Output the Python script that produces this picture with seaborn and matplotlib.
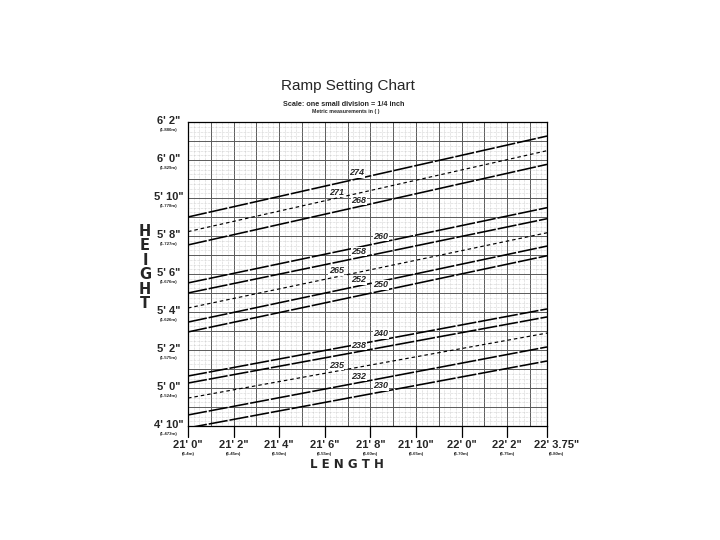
import numpy as np
import pandas as pd
import matplotlib
matplotlib.use("Agg")
import matplotlib.pyplot as plt
import seaborn as sns
from matplotlib.ticker import MultipleLocator

#%%     Data (all in inches)

labels = ['274', '271', '268', '260', '258', '265', '252', '250',
          '240', '238', '235', '232', '230']
dotted = ['271', '265', '235']

# height where each line meets the left (21'0") and right (22'3.75") edge
height_left = [69.0, 68.23, 67.53, 65.53, 65.0, 64.21, 63.47, 62.95,
               60.63, 60.26, 59.47, 58.58, 57.9]
height_right = [73.26, 72.49, 71.77, 69.49, 68.91, 68.17, 67.47, 66.96,
                64.16, 63.74, 62.89, 62.16, 61.42]
# length at which each number is written on its line
label_at = [259.4, 258.5, 259.5, 260.45, 259.5, 258.5, 259.5, 260.45,
            260.45, 259.5, 258.5, 259.5, 260.45]

length_min, length_max = 252, 267.75
height_min, height_max = 58, 74

x_ticks = [252, 254, 256, 258, 260, 262, 264, 266, 267.75]
x_ticklabels = ['21\' 0"', '21\' 2"', '21\' 4"', '21\' 6"', '21\' 8"',
                '21\' 10"', '22\' 0"', '22\' 2"', '22\' 3.75"']
x_metric = ['(6.4m)', '(6.45m)', '(6.50m)', '(6.55m)', '(6.60m)',
            '(6.65m)', '(6.70m)', '(6.75m)', '(6.80m)']

y_ticks = [74, 72, 70, 68, 66, 64, 62, 60, 58]
y_ticklabels = ['6\' 2"', '6\' 0"', '5\' 10"', '5\' 8"', '5\' 6"',
                '5\' 4"', '5\' 2"', '5\' 0"', '4\' 10"']
y_metric = ['(1.880m)', '(1.829m)', '(1.778m)', '(1.727m)', '(1.676m)',
            '(1.626m)', '(1.575m)', '(1.524m)', '(1.473m)']

#%%     Long table for seaborn
rows = []
for lab, h0, h1 in zip(labels, height_left, height_right):
    kind = 'dotted' if lab in dotted else 'solid'
    rows.append((lab, kind, length_min, h0))
    rows.append((lab, kind, length_max, h1))
df = pd.DataFrame(rows, columns=['line', 'kind', 'length', 'height'])

#%%     Plot
sns.set_style('white')
plt.rcParams['font.family'] = ['Liberation Sans', 'DejaVu Sans']

fig = plt.figure(figsize=(7.2, 5.4), dpi=100)
ax = fig.add_axes([188 / 720, 1 - 426 / 540, 359 / 720, 304 / 540])

black = {lab: 'black' for lab in labels}
sns.lineplot(data=df, x='length', y='height', hue='line', style='kind',
             size='kind', sizes={'solid': 1.15, 'dotted': 0.85},
             palette=black, dashes={'solid': (12, 1.2), 'dotted': (3, 2.5)},
             estimator=None, sort=False, legend=False, ax=ax, zorder=3)

for lab, xl, h0, h1 in zip(labels, label_at, height_left, height_right):
    yl = np.interp(xl, [length_min, length_max], [h0, h1])
    ax.annotate(lab, (xl, yl), xytext=(0, 1.2), textcoords='offset points',
                ha='center', va='bottom', fontsize=6.5, fontweight='bold',
                fontstyle='italic', zorder=5,
                bbox=dict(boxstyle='square,pad=0.05', fc='white', ec='none'))

ax.set_xlim(length_min, length_max)
ax.set_ylim(height_min, height_max)

# grid: one inch major, 1/4 inch small divisions
ax.xaxis.set_major_locator(MultipleLocator(1))
ax.yaxis.set_major_locator(MultipleLocator(1))
ax.xaxis.set_minor_locator(MultipleLocator(0.25))
ax.yaxis.set_minor_locator(MultipleLocator(0.25))
ax.grid(which='major', color='#5a5a5a', linewidth=0.7)
ax.grid(which='minor', color='#b0b0b0', linewidth=0.4, linestyle=(0, (1, 1.5)))
ax.set_axisbelow(True)
ax.tick_params(which='both', length=0, labelbottom=False, labelleft=False)
ax.set_xlabel('')
ax.set_ylabel('')
for s in ax.spines.values():
    s.set_color('black')
    s.set_linewidth(0.9)

# x ticks hanging below the grid, with labels
for xt, lab, met in zip(x_ticks, x_ticklabels, x_metric):
    ax.plot([xt, xt], [0, -0.035], transform=ax.get_xaxis_transform(),
            color='black', linewidth=0.9, clip_on=False)
    dx = 7 if xt == x_ticks[-1] else 0
    ax.annotate(lab, (xt, 0), xycoords=('data', 'axes fraction'),
                xytext=(dx, -14), textcoords='offset points',
                ha='center', va='center', fontsize=8, fontweight='bold')
    ax.annotate(met, (xt, 0), xycoords=('data', 'axes fraction'),
                xytext=(dx, -20.5), textcoords='offset points',
                ha='center', va='center', fontsize=3.2, fontweight='bold')

for yt, lab, met in zip(y_ticks, y_ticklabels, y_metric):
    ax.annotate(lab, (0, yt), xycoords=('axes fraction', 'data'),
                xytext=(-14, 0.8), textcoords='offset points',
                ha='center', va='center', fontsize=8, fontweight='bold')
    ax.annotate(met, (0, yt), xycoords=('axes fraction', 'data'),
                xytext=(-14, -5.5), textcoords='offset points',
                ha='center', va='center', fontsize=3.2, fontweight='bold')

fig.text(0.4833, 0.8407, 'Ramp Setting Chart', ha='center', va='center',
         fontsize=11)
fig.text(0.477, 0.8065, 'Scale: one small division = 1/4 inch',
         ha='center', va='center', fontsize=5.2, fontweight='bold')
fig.text(0.4806, 0.7926, 'Metric measurements in ( )', ha='center',
         va='center', fontsize=3.8, fontweight='bold')

fig.text(0.2014, 0.5046, 'H\nE\nI\nG\nH\nT', ha='center', va='center',
         fontsize=10.5, fontweight='heavy', linespacing=0.95,
         family=['DejaVu Sans'])
fig.text(0.4815, 0.1407, 'L E N G T H', ha='center', va='center',
         fontsize=8.5, fontweight='heavy', family=['DejaVu Sans'])

fig.savefig('out.png', dpi=100, facecolor='white')
